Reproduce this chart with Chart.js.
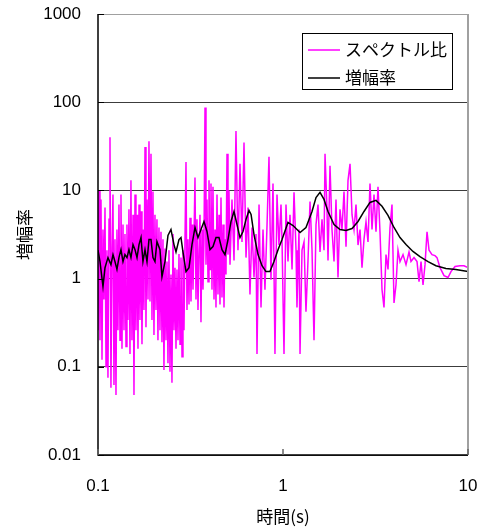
<!DOCTYPE html>
<html lang="ja">
<head>
<meta charset="utf-8">
<script src="https://cdn.jsdelivr.net/npm/chart.js@4.4.1/dist/chart.umd.min.js"></script>
<style>
  html, body { margin: 0; padding: 0; background: #fff; }
  canvas { display: block; }
</style>
</head>
<body>
<canvas id="chart" width="481" height="529"></canvas>
<script>
// 目盛り
const xTicks = [0.1, 1, 10];
const yTicks = [0.01, 0.1, 1, 10, 100, 1000];

// スペクトル比 (周期, 比)
const spPeriod = [
  0.1000, 0.1013, 0.1025, 0.1038, 0.1051, 0.1064, 0.1077, 0.1091, 0.1105, 0.1118,
  0.1132, 0.1147, 0.1161, 0.1175, 0.1190, 0.1205, 0.1220, 0.1235, 0.1251, 0.1266,
  0.1282, 0.1298, 0.1315, 0.1331, 0.1348, 0.1365, 0.1382, 0.1399, 0.1417, 0.1434,
  0.1452, 0.1470, 0.1489, 0.1507, 0.1526, 0.1546, 0.1565, 0.1585, 0.1604, 0.1625,
  0.1645, 0.1666, 0.1686, 0.1708, 0.1729, 0.1750, 0.1772, 0.1795, 0.1817, 0.1840,
  0.1863, 0.1886, 0.1910, 0.1934, 0.1958, 0.1982, 0.2007, 0.2032, 0.2058, 0.2083,
  0.2109, 0.2136, 0.2163, 0.2190, 0.2217, 0.2245, 0.2273, 0.2302, 0.2331, 0.2360,
  0.2389, 0.2419, 0.2450, 0.2480, 0.2511, 0.2543, 0.2575, 0.2607, 0.2640, 0.2673,
  0.2706, 0.2740, 0.2775, 0.2809, 0.2845, 0.2880, 0.2916, 0.2953, 0.2990, 0.3027,
  0.3065, 0.3104, 0.3143, 0.3182, 0.3222, 0.3262, 0.3303, 0.3344, 0.3386, 0.3428,
  0.3471, 0.3515, 0.3559, 0.3603, 0.3649, 0.3694, 0.3741, 0.3788, 0.3835, 0.3883,
  0.3932, 0.3981, 0.4031, 0.4081, 0.4132, 0.4184, 0.4237, 0.4290, 0.4343, 0.4398,
  0.4453, 0.4509, 0.4565, 0.4622, 0.4680, 0.4739, 0.4798, 0.4858, 0.4919, 0.4981,
  0.5043, 0.5106, 0.5170,
  0.530, 0.5435, 0.557, 0.571, 0.5855, 0.6003, 0.6155, 0.631, 0.647, 0.663,
  0.680, 0.697, 0.7145, 0.7235, 0.742, 0.7606, 0.7797, 0.799, 0.819, 0.840,
  0.861, 0.883, 0.905, 0.928, 0.951, 0.9754, 0.9876, 1.0125, 1.038, 1.064,
  1.091, 1.119, 1.147, 1.176, 1.190, 1.220, 1.236, 1.267, 1.299, 1.331,
  1.365, 1.400, 1.435, 1.471, 1.508, 1.546, 1.585, 1.625, 1.666, 1.687,
  1.729, 1.751, 1.795, 1.840, 1.887, 1.934, 1.983, 2.033, 2.084, 2.137,
  2.191, 2.246, 2.303, 2.361, 2.420, 2.481, 2.544, 2.608, 2.673, 2.741,
  2.81, 2.881, 2.953, 3.028, 3.104, 3.182, 3.262, 3.344, 3.429, 3.515,
  3.604, 3.695, 3.788, 3.883, 3.981, 4.081, 4.184, 4.290, 4.454, 4.623,
  4.799, 4.920, 5.108, 5.302, 5.436, 5.573, 5.713, 5.857, 6.005, 6.156,
  6.39, 6.63, 6.80, 7.06, 7.42, 7.80, 8.09, 8.51, 9.05, 9.51,
  10.0
];
const spRatio = [
  0.26, 10, 0.20, 7.9, 0.12, 3.6, 0.58, 6.4, 0.10, 2.1,
  0.075, 4.7, 40, 0.058, 2.1, 9.0, 0.062, 2.8, 0.048, 3.6,
  0.26, 6.9, 0.20, 9.0, 0.16, 4.1, 0.26, 3.2, 0.17, 4.1,
  0.34, 6.1, 0.14, 13, 0.20, 5.3, 0.048, 9.0, 0.26, 5.3,
  0.16, 6.9, 0.34, 5.8, 0.18, 3.6, 0.44, 31, 0.28, 7.9,
  0.58, 36, 0.55, 26, 0.34, 9.7, 0.23, 5.3, 0.44, 4.7,
  0.20, 3.8, 0.26, 3.4, 0.19, 2.8, 0.092, 2.2, 0.20, 1.56,
  0.11, 2.1, 0.088, 1.11, 0.066, 3.2, 0.26, 1.33, 0.16, 1.27,
  0.20, 1.9, 0.18, 1.73, 0.13, 2.1, 0.26, 2.8, 21, 0.44,
  2.8, 0.51, 4.9, 0.55, 4.1, 0.75, 2.8, 14, 0.58, 4.7,
  0.44, 2.1, 5.3, 0.32, 3.6, 0.75, 2.8, 87, 1.44, 7.9,
  0.92, 13, 1.27, 12, 0.75, 11, 0.58, 3.6, 0.47, 9.0,
  0.66, 5.3, 0.51, 8.3, 0.61, 4.1, 0.47, 2.8, 1.11, 26,
  1.87, 10, 1.44,
  7.9, 1.6, 47, 2.1, 20, 2.6, 35, 1.73, 6.4, 0.66,
  3.8, 1.03, 3.2, 0.14, 6.9, 0.47, 3.6, 0.75, 3.8, 24,
  0.97, 12, 0.14, 9.0, 2.4, 6.9, 2.8, 0.14, 6.9, 1.56,
  5.3, 1.27, 9.5, 2.1, 0.47, 3.6, 0.14, 2.1, 2.6, 0.42,
  1.6, 7.5, 2.1, 0.20, 4.1, 6.9, 2.0, 4.7, 2.1, 26,
  6.1, 1.6, 19, 3.6, 1.56, 7.9, 1.03, 6.1, 3.6, 9.7,
  2.3, 13, 20, 5.3, 3.6, 6.9, 2.4, 3.6, 1.33, 2.8,
  4.4, 2.6, 12, 3.6, 9.0, 3.4, 11, 3.4, 0.75, 0.47,
  1.87, 1.27, 3.8, 6.9, 0.53, 0.85, 2.1, 1.56, 1.87, 1.44,
  2.0, 1.56, 1.73, 1.56, 0.92, 1.56, 0.85, 1.44, 3.4, 2.1,
  1.87, 1.82, 1.73, 1.33, 1.08, 1.03, 1.20, 1.37, 1.40, 1.40,
  1.33
];

// 増幅率 (周期, 増幅率)
const ampPeriod = [
  0.1000, 0.1025, 0.1064, 0.1091, 0.1132, 0.1175, 0.1205, 0.1235, 0.1266, 0.1298,
  0.1331, 0.1365, 0.1399, 0.1434, 0.1470, 0.1507, 0.1546, 0.1585, 0.1625, 0.1666,
  0.1708, 0.1750, 0.1795, 0.1840, 0.1886, 0.1934, 0.1982, 0.2032, 0.2083, 0.2163,
  0.2217, 0.2302, 0.2389, 0.2480, 0.2575, 0.2640, 0.2740, 0.2809, 0.2880, 0.2990,
  0.3104, 0.3222, 0.3344, 0.3471, 0.3603, 0.3741, 0.3883, 0.4031, 0.4184, 0.4343,
  0.4509, 0.4680, 0.4858, 0.5043, 0.5235, 0.5435, 0.564, 0.5855, 0.608, 0.631,
  0.655, 0.672, 0.697, 0.733, 0.770, 0.809, 0.850, 0.894, 0.940, 0.988,
  1.064, 1.133, 1.236, 1.331, 1.435, 1.508, 1.585, 1.666, 1.751, 1.887,
  2.033, 2.191, 2.361, 2.544, 2.741, 2.953, 3.182, 3.429, 3.695, 3.981,
  4.290, 4.623, 5.04, 5.50, 6.08, 6.71, 7.6, 8.6, 10.0
];
const ampValue = [
  2.1, 1.56, 0.81, 1.33, 1.73, 1.44, 1.87, 1.56, 1.27, 1.73,
  2.13, 1.56, 1.87, 1.73, 2.13, 1.73, 2.43, 2.13, 1.73, 2.43,
  2.92, 1.56, 2.13, 1.56, 2.77, 2.77, 1.73, 1.56, 2.63, 2.13,
  1.05, 1.56, 3.08, 3.60, 2.43, 2.0, 2.77, 2.92, 2.0, 1.20,
  1.33, 2.43, 3.8, 2.92, 3.60, 4.44, 3.42, 2.13, 2.31, 2.92,
  2.92, 2.13, 1.87, 2.77, 4.44, 5.77, 4.11, 2.92, 3.42, 4.68,
  5.92, 5.33, 3.16, 1.87, 1.40, 1.20, 1.20, 1.56, 2.13, 2.77,
  4.33, 4.0, 3.33, 3.8, 5.77, 8.3, 9.5, 7.9, 5.77, 4.11,
  3.60, 3.51, 3.70, 4.44, 5.77, 7.3, 7.7, 6.6, 5.2, 3.8,
  2.92, 2.43, 2.03, 1.78, 1.56, 1.40, 1.30, 1.27, 1.20
];

const numFont = { family: '"Liberation Sans", Arial, sans-serif', size: 17 };
const jpFont = '"Noto Sans CJK JP", sans-serif';

// 軸の余白を固定する
const fixPadding = axis => {
  axis.paddingLeft = 0;
  axis.paddingRight = 0;
  axis.paddingTop = 0;
  axis.paddingBottom = 0;
};

// 枠線・内向き目盛り・凡例
const frameAndLegend = {
  id: 'frameAndLegend',
  afterDatasetsDraw(chart) {
    const { ctx, chartArea: a, scales: { x, y } } = chart;
    ctx.save();
    ctx.strokeStyle = '#a0a0a0';
    ctx.lineWidth = 1;
    ctx.beginPath();
    ctx.moveTo(a.left, a.top + 0.5);
    ctx.lineTo(a.right, a.top + 0.5);
    ctx.stroke();
    ctx.lineWidth = 2;
    ctx.beginPath();
    ctx.moveTo(a.right, a.top);
    ctx.lineTo(a.right, a.bottom);
    ctx.stroke();

    ctx.strokeStyle = '#000';
    ctx.lineWidth = 1.5;
    ctx.beginPath();
    ctx.moveTo(a.left, a.top);
    ctx.lineTo(a.left, a.bottom);
    ctx.lineTo(a.right, a.bottom);
    ctx.stroke();

    ctx.lineWidth = 1;
    yTicks.forEach(v => {
      const py = Math.round(y.getPixelForValue(v)) + 0.5;
      ctx.beginPath();
      ctx.moveTo(a.left, py);
      ctx.lineTo(a.left + 6, py);
      ctx.stroke();
    });
    ctx.strokeStyle = '#666';
    ctx.lineWidth = 1.5;
    xTicks.forEach(v => {
      const px = Math.round(x.getPixelForValue(v));
      ctx.beginPath();
      ctx.moveTo(px, a.bottom);
      ctx.lineTo(px, a.bottom - 6);
      ctx.stroke();
    });
    ctx.restore();
  },
  afterDraw(chart) {
    const { ctx, chartArea: a } = chart;
    const bx = a.right - 166, by = a.top + 19, bw = 150, bh = 56;
    ctx.save();
    ctx.fillStyle = '#fff';
    ctx.fillRect(bx, by, bw, bh);
    ctx.strokeStyle = '#000';
    ctx.lineWidth = 1;
    ctx.strokeRect(bx + 0.5, by + 0.5, bw, bh);
    ctx.font = '17px ' + jpFont;
    ctx.textBaseline = 'middle';
    chart.data.datasets.forEach((ds, i) => {
      const ly = by + 17 + i * 28;
      ctx.strokeStyle = ds.borderColor;
      ctx.lineWidth = 1.5;
      ctx.beginPath();
      ctx.moveTo(bx + 6, ly);
      ctx.lineTo(bx + 38, ly);
      ctx.stroke();
      ctx.fillStyle = '#000';
      ctx.fillText(ds.label, bx + 43, ly);
    });
    ctx.restore();
  }
};

new Chart(document.getElementById('chart'), {
  type: 'scatter',
  data: {
    datasets: [
      {
        label: 'スペクトル比',
        data: spPeriod.map((p, i) => ({ x: p, y: spRatio[i] })),
        showLine: true,
        borderColor: '#ff00ff',
        borderWidth: 1.5,
        pointRadius: 0,
        tension: 0,
        order: 2
      },
      {
        label: '増幅率',
        data: ampPeriod.map((p, i) => ({ x: p, y: ampValue[i] })),
        showLine: true,
        borderColor: '#000000',
        borderWidth: 1.5,
        pointRadius: 0,
        tension: 0,
        order: 1
      }
    ]
  },
  options: {
    responsive: false,
    animation: false,
    devicePixelRatio: 1,
    layout: {
      autoPadding: false,
      padding: { left: 0, top: 14, right: 13, bottom: 0 }
    },
    plugins: {
      legend: { display: false },
      tooltip: { enabled: false }
    },
    scales: {
      x: {
        type: 'logarithmic',
        min: 0.1,
        max: 10,
        afterBuildTicks: axis => { axis.ticks = xTicks.map(v => ({ value: v })); },
        afterFit: axis => { axis.height = 74; fixPadding(axis); },
        grid: { display: false, drawTicks: false },
        border: { display: false },
        ticks: {
          padding: 21,
          color: '#000',
          font: numFont,
          maxRotation: 0,
          autoSkip: false,
          callback: v => String(v)
        },
        title: {
          display: true,
          text: '時間(s)',
          color: '#000',
          font: { family: jpFont, size: 17 },
          padding: { top: 0, bottom: 2 }
        }
      },
      y: {
        type: 'logarithmic',
        min: 0.01,
        max: 1000,
        afterBuildTicks: axis => { axis.ticks = yTicks.map(v => ({ value: v })); },
        afterFit: axis => { axis.width = 98; fixPadding(axis); },
        grid: { color: '#3c3c3c', lineWidth: 1, drawTicks: false },
        border: { display: false },
        ticks: {
          padding: 17,
          color: '#000',
          font: numFont,
          autoSkip: false,
          callback: v => String(v)
        },
        title: {
          display: true,
          text: '増幅率',
          color: '#000',
          font: { family: jpFont, size: 17 },
          padding: { top: 14, bottom: 0 }
        }
      }
    }
  },
  plugins: [frameAndLegend]
});
</script>
</body>
</html>
